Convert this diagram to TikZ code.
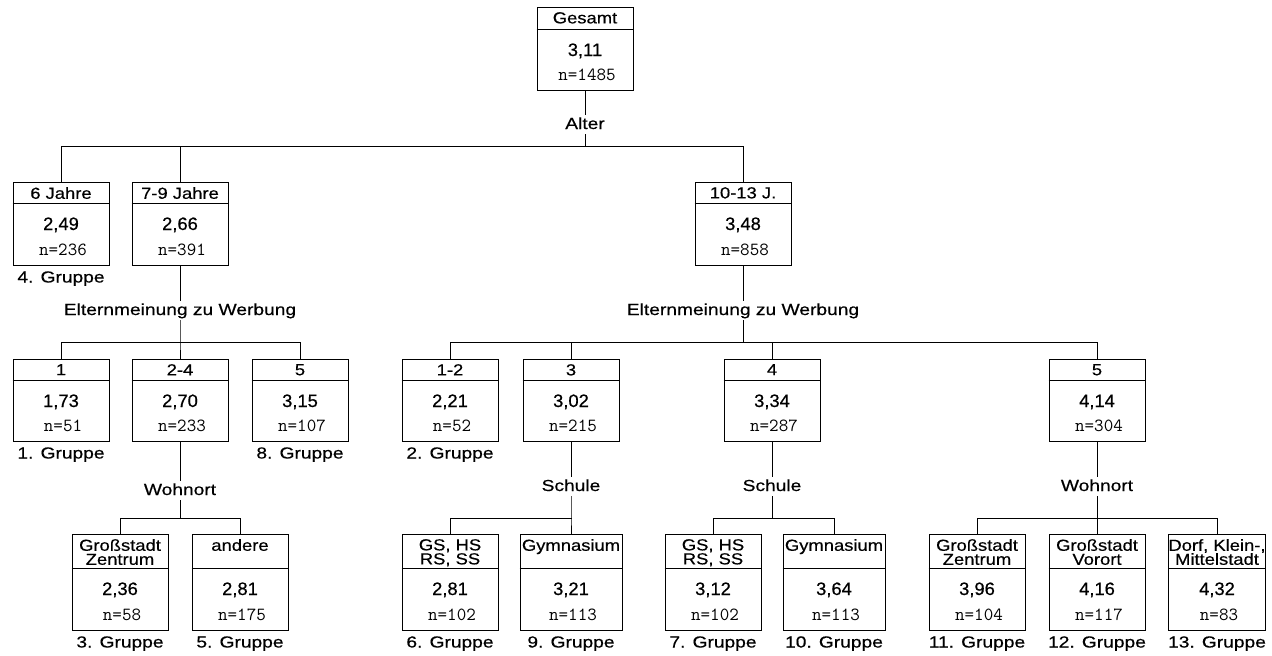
\documentclass[tikz,border=0pt]{standalone}
\usepackage{fontspec}
\setmainfont{Liberation Sans}
\newfontfamily\hdfont[FakeStretch=1.15,FakeBold=0.4]{Liberation Sans}
\newfontfamily\lbfont[FakeStretch=1.2,FakeBold=0.4]{Liberation Sans}
\newfontfamily\valfont[FakeStretch=1.02,FakeBold=0.5]{Liberation Sans}
\tikzset{
  tline/.style={line width=1pt, line cap=rect},
  tbox/.style={draw, line width=1pt, rectangle, inner sep=0pt},
  hd/.style={font={\hdfont\fontsize{16}{14}\selectfont}, inner sep=0pt, align=center, anchor=north},
  val/.style={font={\valfont\fontsize{18}{18}\selectfont}, inner sep=0pt, anchor=base},
  nn/.style={font={\ttfamily\fontsize{18.5}{18}\selectfont}, inner sep=0pt, anchor=base},
  grp/.style={font={\lbfont\fontsize{16}{16}\selectfont}, inner sep=0pt, anchor=base},
  lab/.style={font={\lbfont\fontsize{16}{16}\selectfont}, inner xsep=0pt, inner ysep=2pt, text height=12pt, text depth=3pt, anchor=base},
}
% #1 name, #2 cx, #3 top, #4 width, #5 header height, #6 height, #7 header, #8 value, #9 n
\newcommand\treebox[9]{%
  \node[tbox, minimum width=#4, minimum height=#6] (#1) at (#2,#3+#6/2) {};
  \draw[line width=1pt] ([yshift=-#5]#1.north west) -- ([yshift=-#5]#1.north east);
  \node[hd] (#1-h) at (#2,#3+5) {#7};
  \node[val] (#1-v) at (#2,#3+#5+26) {#8};
  \node[nn] (#1-n) at (#2+2,#3+#6-10) {#9};
}
\begin{document}
\begin{tikzpicture}[x=1pt, y=-1pt]
\fill[white] (0,0) rectangle (1272,656);
\useasboundingbox (0,0) rectangle (1272,656);

% level 0
\treebox{g}{585}{7}{96}{23}{83}{Gesamt}{3,11}{n=1485}

% level 1
\treebox{a6}{61}{182}{96}{22}{83}{6 Jahre}{2,49}{n=236}
\treebox{a79}{180}{182}{96}{22}{83}{7-9 Jahre}{2,66}{n=391}
\treebox{a1013}{743}{182}{96}{22}{83}{10-13 J.}{3,48}{n=858}

% level 2
\treebox{b1}{61}{359}{96}{22}{82}{1}{1,73}{n=51}
\treebox{b24}{180}{359}{96}{22}{82}{2-4}{2,70}{n=233}
\treebox{b5}{300}{359}{96}{22}{82}{5}{3,15}{n=107}
\treebox{c12}{450}{359}{96}{22}{82}{1-2}{2,21}{n=52}
\treebox{c3}{571}{359}{96}{22}{82}{3}{3,02}{n=215}
\treebox{c4}{772}{359}{96}{22}{82}{4}{3,34}{n=287}
\treebox{c5}{1097}{359}{96}{22}{82}{5}{4,14}{n=304}

% level 3
\treebox{d1}{120}{534}{96}{35}{96}{Großstadt\\Zentrum}{2,36}{n=58}
\treebox{d2}{240}{534}{96}{35}{96}{andere}{2,81}{n=175}
\treebox{e1}{450}{534}{96}{35}{96}{GS, HS\\RS, SS}{2,81}{n=102}
\treebox{e2}{571}{534}{102}{35}{96}{Gymnasium}{3,21}{n=113}
\treebox{f1}{713}{534}{96}{35}{96}{GS, HS\\RS, SS}{3,12}{n=102}
\treebox{f2}{834}{534}{102}{35}{96}{Gymnasium}{3,64}{n=113}
\treebox{h1}{977}{534}{96}{35}{96}{Großstadt\\Zentrum}{3,96}{n=104}
\treebox{h2}{1097}{534}{96}{35}{96}{Großstadt\\Vorort}{4,16}{n=117}
\treebox{h3}{1217}{534}{97}{35}{96}{Dorf, Klein-,\\Mittelstadt}{4,32}{n=83}

% group labels
\node[grp] (gr4) at ([yshift=-17pt]a6.south) {4. Gruppe};
\node[grp] (gr1) at ([yshift=-17pt]b1.south) {1. Gruppe};
\node[grp] (gr8) at ([yshift=-17pt]b5.south) {8. Gruppe};
\node[grp] (gr2) at ([yshift=-17pt]c12.south) {2. Gruppe};
\node[grp] (gr3) at ([yshift=-17pt]d1.south) {3. Gruppe};
\node[grp] (gr5) at ([yshift=-17pt]d2.south) {5. Gruppe};
\node[grp] (gr6) at ([yshift=-17pt]e1.south) {6. Gruppe};
\node[grp] (gr9) at ([yshift=-17pt]e2.south) {9. Gruppe};
\node[grp] (gr7) at ([yshift=-17pt]f1.south) {7. Gruppe};
\node[grp] (gr10) at ([yshift=-17pt]f2.south) {10. Gruppe};
\node[grp] (gr11) at ([yshift=-17pt]h1.south) {11. Gruppe};
\node[grp] (gr12) at ([yshift=-17pt]h2.south) {12. Gruppe};
\node[grp] (gr13) at ([yshift=-17pt]h3.south) {13. Gruppe};

% split labels
\node[lab] (lAlter) at (585,129) {Alter};
\node[lab] (lEl1) at (180,315) {Elternmeinung zu Werbung};
\node[lab] (lEl2) at (743,315) {Elternmeinung zu Werbung};
\node[lab] (lWo1) at (180,495) {Wohnort};
\node[lab] (lSc1) at (571,491) {Schule};
\node[lab] (lSc2) at (772,491) {Schule};
\node[lab] (lWo2) at (1097,491) {Wohnort};

% junction coordinates
\coordinate (j0) at (585,146);
\coordinate (j1) at (180,342);
\coordinate (j2) at (743,342);
\coordinate (j3) at (180,518);
\coordinate (j4) at (571,518);
\coordinate (j5) at (772,518);
\coordinate (j6) at (1097,518);

% connectors: Alter
\draw[tline] (g.south) -- (lAlter.north);
\draw[tline] (lAlter.south) -- (j0);
\draw[tline] (a6.north) -- (a6.north |- j0) -- (a1013.north |- j0) -- (a1013.north);
\draw[tline] (a79.north) -- (a79.north |- j0);

% Elternmeinung left
\draw[tline] (a79.south) -- (lEl1.north);
\draw[tline] (lEl1.south) -- (j1) -- (b24.north);
\draw[tline] (b1.north) -- (b1.north |- j1) -- (b5.north |- j1) -- (b5.north);

% Elternmeinung right
\draw[tline] (a1013.south) -- (lEl2.north);
\draw[tline] (lEl2.south) -- (j2);
\draw[tline] (c12.north) -- (c12.north |- j2) -- (c5.north |- j2) -- (c5.north);
\draw[tline] (c3.north) -- (c3.north |- j2);
\draw[tline] (c4.north) -- (c4.north |- j2);

% Wohnort left
\draw[tline] (b24.south) -- (lWo1.north);
\draw[tline] (lWo1.south) -- (j3);
\draw[tline] (d1.north) -- (d1.north |- j3) -- (d2.north |- j3) -- (d2.north);

% Schule 1
\draw[tline] (c3.south) -- (lSc1.north);
\draw[tline] (lSc1.south) -- (j4) -- (e2.north);
\draw[tline] (e1.north) -- (e1.north |- j4) -- (j4);

% Schule 2
\draw[tline] (c4.south) -- (lSc2.north);
\draw[tline] (lSc2.south) -- (j5);
\draw[tline] (f1.north) -- (f1.north |- j5) -- (f2.north |- j5) -- (f2.north);

% Wohnort right
\draw[tline] (c5.south) -- (lWo2.north);
\draw[tline] (lWo2.south) -- (j6) -- (h2.north);
\draw[tline] (h1.north) -- (h1.north |- j6) -- (h3.north |- j6) -- (h3.north);
\end{tikzpicture}
\end{document}
